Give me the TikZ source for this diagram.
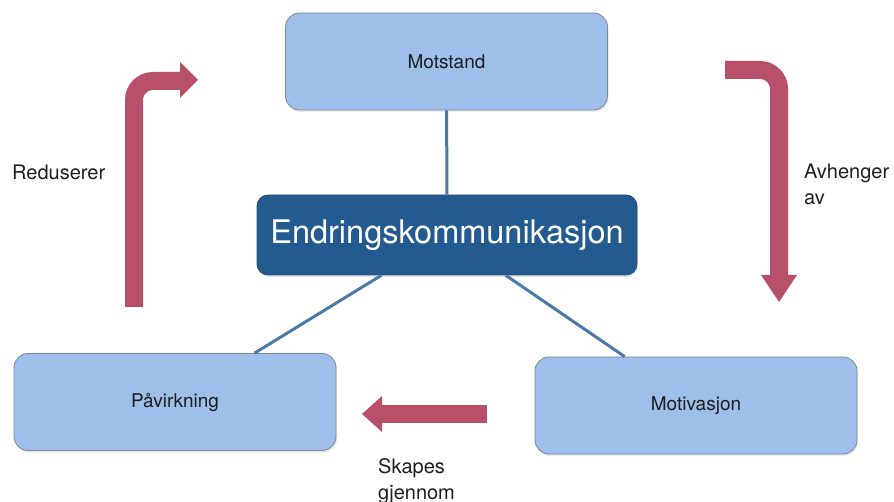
\documentclass[tikz,border=0pt]{standalone}
\usepackage{fontspec}
\setmainfont{TeX Gyre Heros}
\usetikzlibrary{shadows}
\definecolor{boxfill}{HTML}{9DBFE9}
\definecolor{boxline}{HTML}{7D8A98}
\definecolor{corefill}{HTML}{235A90}
\definecolor{coreline}{HTML}{2F4D6E}
\definecolor{linkblue}{HTML}{4B79A9}
\definecolor{flowred}{HTML}{B8506A}
\definecolor{txt}{HTML}{1E1E1E}
\begin{document}
\begin{tikzpicture}[x=1pt,y=-1pt,
  shade/.style={drop shadow={opacity=0.18,shadow xshift=1pt,shadow yshift=-2pt}},
  topic/.style={draw=boxline,line width=0.8pt,fill=boxfill,rounded corners=14pt,
    minimum width=322pt,minimum height=97pt,font=\fontsize{19}{22}\selectfont,
    text=txt,shade},
  core/.style={draw=coreline,line width=0.8pt,fill=corefill,rounded corners=11pt,
    minimum width=380pt,minimum height=80pt,font=\fontsize{32.5}{36}\selectfont,
    text=white,shade},
  link/.style={draw=linkblue,line width=3pt},
  flow/.style={draw=flowred,line width=18pt,rounded corners=19pt},
  head/.style={fill=flowred},
  note/.style={font=\fontsize{20}{26}\selectfont,text=txt,align=left,anchor=west,inner sep=0pt}]
\useasboundingbox (0,0) rectangle (894,502);

% topic boxes and the central theme
\node[topic] (mot) at (446.5,61.5) {Motstand};
\node[core]  (endr) at (447,235) {Endringskommunikasjon};
\node[topic] (pav) at (175,402) {Påvirkning};
\node[topic] (motiv) at (696,405.5) {Motivasjon};

% links from the theme to each topic
\draw[link] (mot) -- (endr);
\draw[link] (endr) -- (pav);
\draw[link] (endr) -- (motiv);

% cycle arrows
\draw[flow] (134,307) -- (134,81) -- (181,81);
\fill[head] (180,62) -- (198,80) -- (180,98) -- cycle;

\draw[flow] (725,70) -- (779,70) -- (779,276);
\fill[head] (761,275) -- (797,275) -- (779,302) -- cycle;

\draw[flow] (487,414) -- (381,414);
\fill[head] (382,396) -- (382,432) -- (362,414) -- cycle;

% arrow captions
\node[note] (red) at (12,172) {Reduserer};
\node[note,anchor=north west] (avh) at (804,164) {Avhenger\\av};
\node[note,anchor=north west] (skap) at (378,458) {Skapes\\gjennom};
\end{tikzpicture}
\end{document}
